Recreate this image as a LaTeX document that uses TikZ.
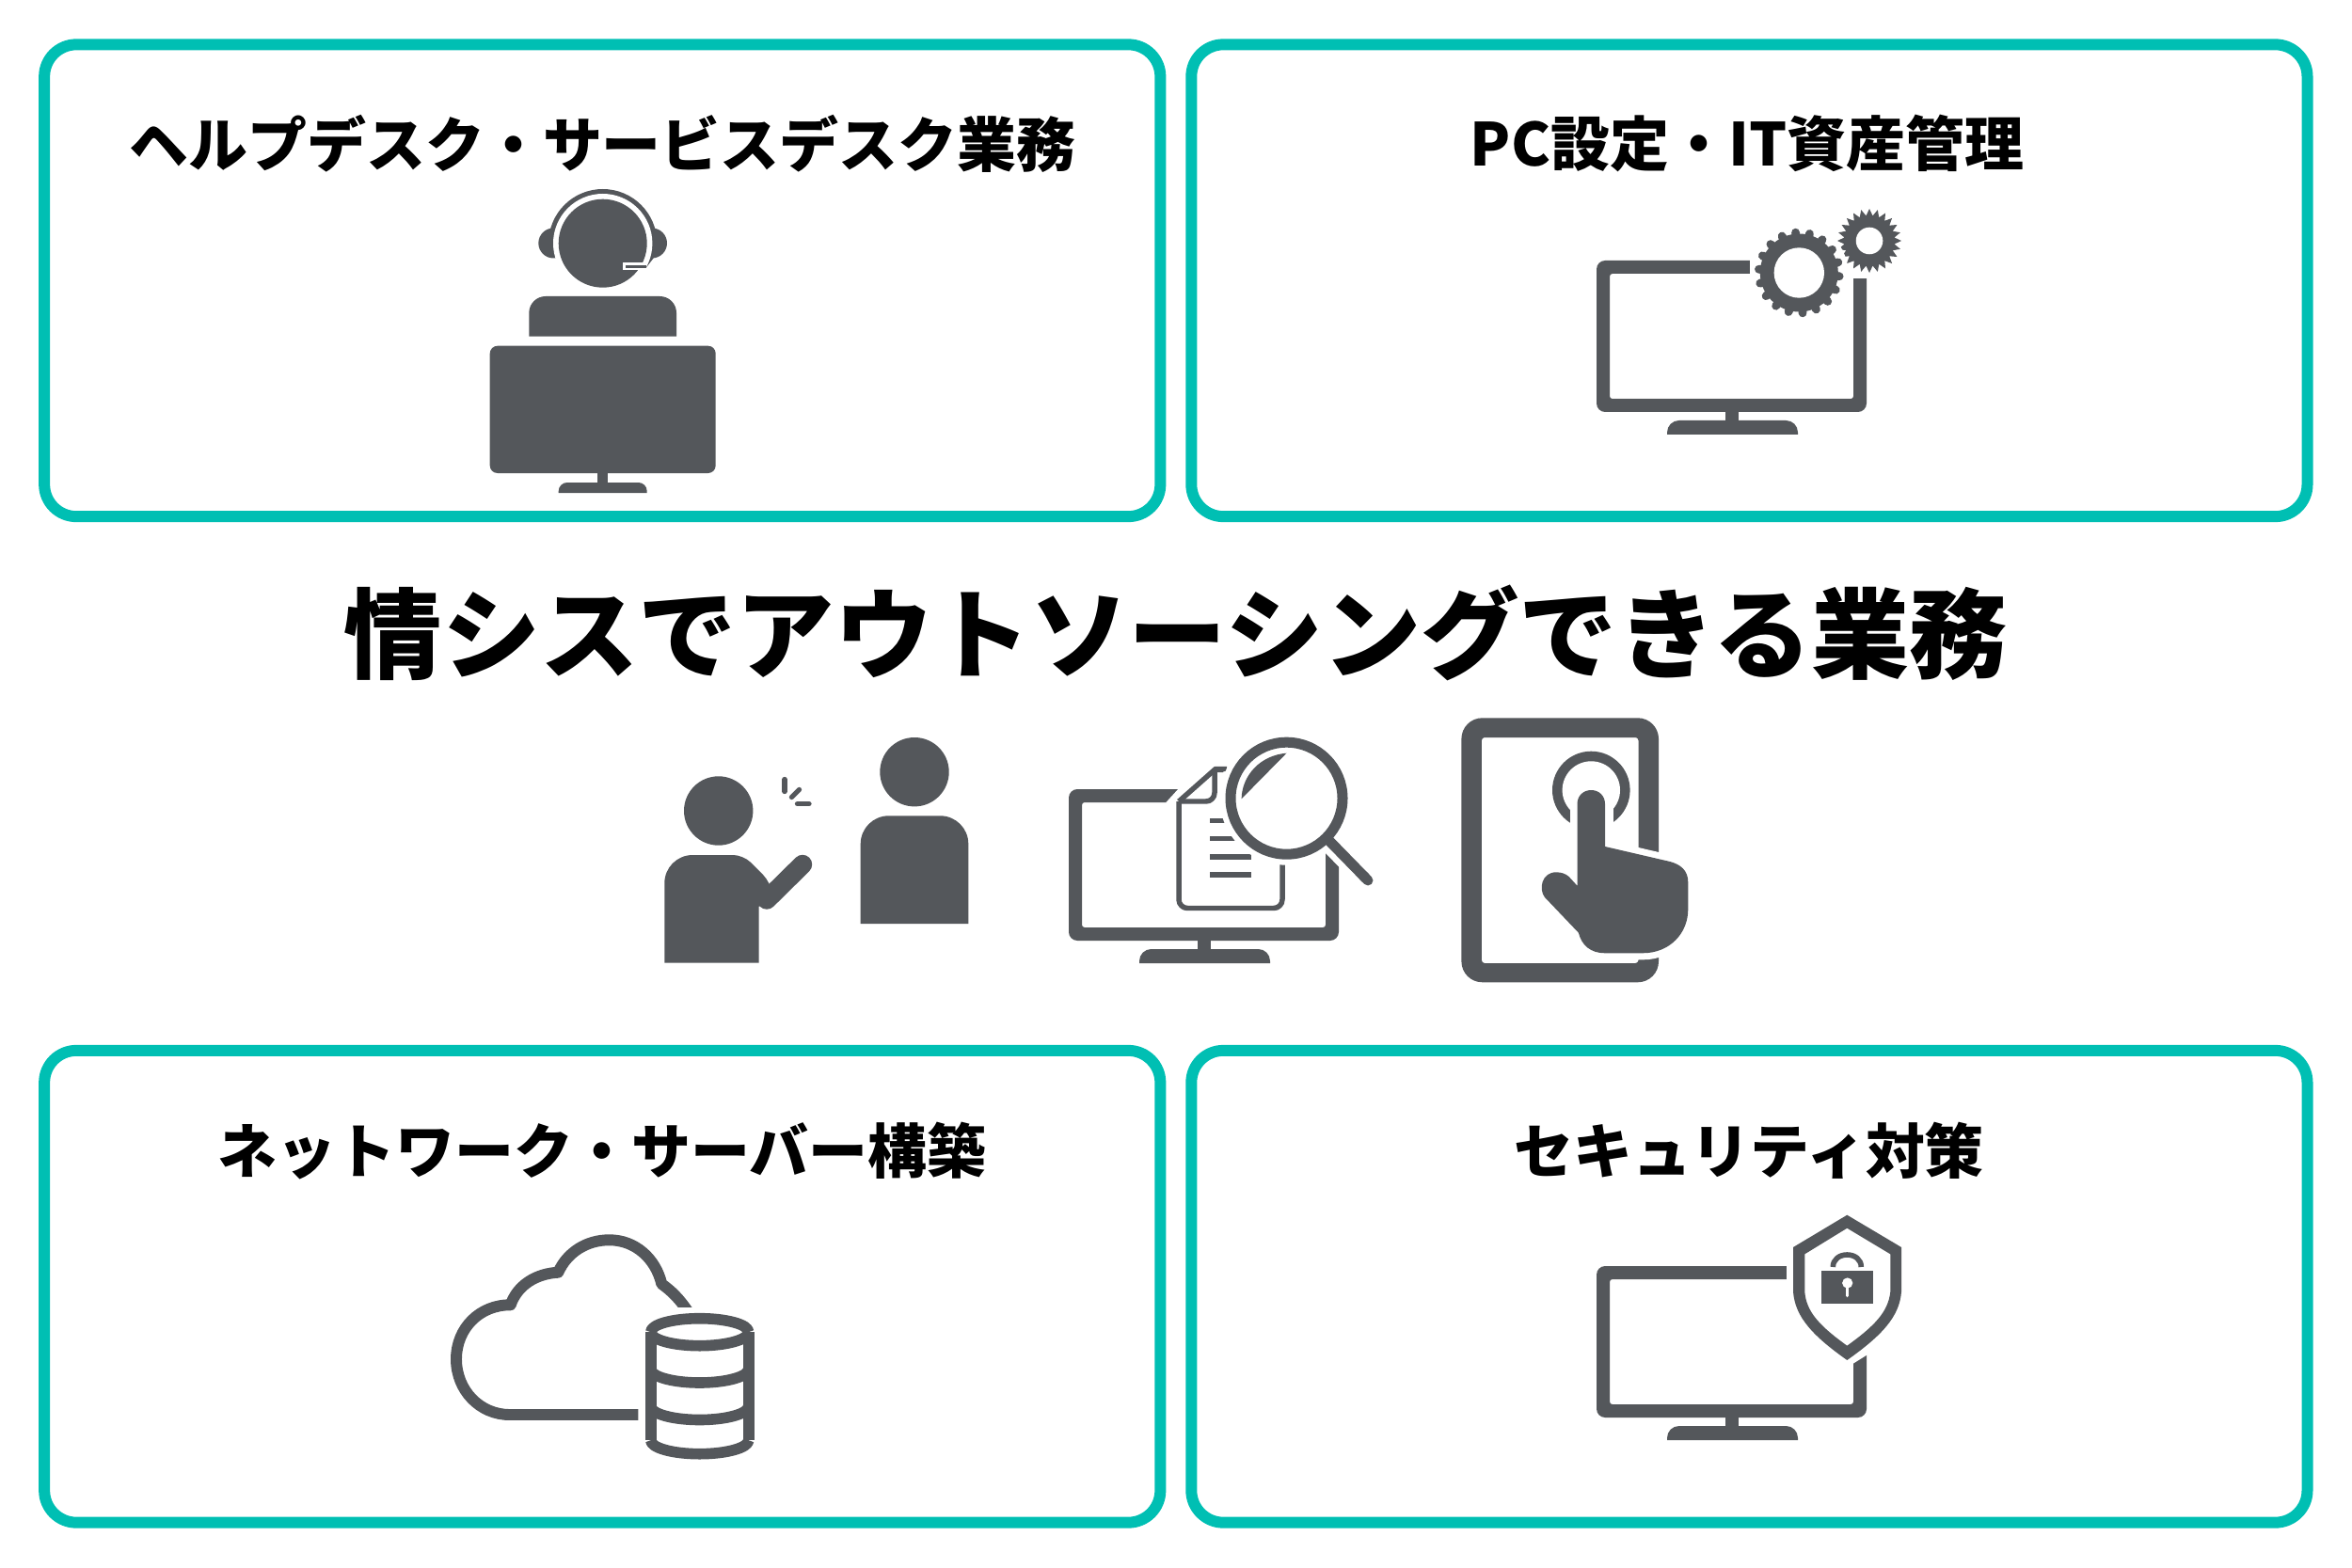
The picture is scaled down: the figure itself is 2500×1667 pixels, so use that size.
\documentclass[tikz,border=0pt]{standalone}
\usepackage{fontspec}
\usetikzlibrary{shapes.geometric}
\newfontfamily\cjkfont{Noto Sans CJK JP}
\definecolor{panelteal}{HTML}{00BFB3}
\definecolor{icongray}{HTML}{54575B}
\tikzset{panel/.style={draw=panelteal,line width=3.41pt,rounded corners=9.67pt,minimum width=11.855cm,minimum height=5.015cm,inner sep=0pt,outer sep=0pt}}
\tikzset{l/.style={font=\cjkfont\bfseries\fontsize{17.9}{18}\selectfont,text=black,inner sep=0pt}}
\tikzset{m/.style={font=\cjkfont\bfseries\fontsize{29.65}{30}\selectfont,text=black,inner sep=0pt}}
\tikzset{icon/.style={fill=icongray,draw=none}}
\tikzset{cut/.style={fill=white,draw=none}}
\tikzset{monitor/.pic={
  \fill[icon,even odd rule] [rounded corners=2.6pt] (0,0) rectangle (287,161) [rounded corners=.8pt] (14,14) rectangle (273,147);
  \fill[icon] (137,160) rectangle (151,171);
  \fill[icon] (75,185) [rounded corners=3.6pt] -- (75,170) -- (214,170) [sharp corners] -- (214,185) -- cycle;
}}

\begin{document}
\begin{tikzpicture}[x=.01cm,y=-.01cm,line join=round]
  \useasboundingbox (0,0) rectangle (2500,1667);
  % frames
  \node[panel] (helpdesk) at (640.25,298.25) {};
  \node[panel] (pcsetup) at (1859.4,298.25) {};
  \node[panel] (network) at (640.25,1367.75) {};
  \node[panel] (security) at (1859.4,1367.75) {};
  % texts
  \node[l] (helpdesklabel) at (640.6,153) {ヘルプデスク・サービスデスク業務};
  \node[l] (pcsetuplabel) at (1857,152) {PC設定・IT資産管理};
  \node[l] (networklabel) at (640,1224) {ネットワーク・サーバー構築};
  \node[l] (securitylabel) at (1859,1223) {セキュリティ対策};
  \node[m] (maintitle) at (1250,673) {情シスでアウトソーシングできる業務};
  % headset operator
  \fill[icon] (640.7,258.7) circle[radius=57.7];
  \fill[cut] (580,258.7) rectangle (700,320);
  \fill[icon] (588.3,258.5) circle[radius=16];
  \fill[icon] (693,258.5) circle[radius=16];
  \fill[icon] (698,270) -- (686.5,285) -- (680,285) -- (680,270) -- cycle;
  \fill[cut] (640.7,258.7) circle[radius=52.7];
  \fill[icon] (640.7,258.7) circle[radius=47];
  \fill[cut] (661.7,279) rectangle (684.5,287.3);
  \fill[icon] (665,282) rectangle (687,284.8);
  \fill[icon] (562.3,357.7) [rounded corners=5pt] -- (562.3,315) -- (719,315) [sharp corners] -- (719,357.7) -- cycle;
  \fill[icon,rounded corners=2.3pt] (520.7,367.7) rectangle (760.7,503);
  \fill[icon] (635.3,502) rectangle (646,514);
  \fill[icon] (593.7,524) [rounded corners=2.6pt] -- (593.7,513) -- (687.7,513) [sharp corners] -- (687.7,524) -- cycle;
  % monitor with gears
  \pic at (1697,277) {monitor};
  \fill[cut] (1860,270) rectangle (1990,296);
  \node[icon,star,star points=24,star point ratio=1.27,minimum size=.68cm,inner sep=0pt,outer sep=0pt] (gearsmall) at (1987,256) {};
  \fill[cut] (1987,256) circle[radius=14.3];
  \fill[cut] (1912.3,290) circle[radius=52];
  \foreach \a in {0,20,...,340}
    \draw[draw=icongray,line width=2.5pt,line cap=round,shift={(1912.3,290)}] (\a+5:38) -- (\a+5:43);
  \fill[icon] (1912.3,290) circle[radius=41.5];
  \fill[cut] (1912.3,290) circle[radius=26.7];
  % two people
  \fill[icon] (763.7,862) circle[radius=36.7];
  \fill[icon] (706.3,1023.7) [rounded corners=8.5pt] -- (706.3,909) [rounded corners=3pt] -- (790,909) -- (818.7,937.7) [sharp corners] -- (822,958) -- (806.7,963.7) -- (806.7,1023.7) -- cycle;
  \draw[draw=icongray,line width=5.8pt,line cap=round] (853,919) -- (815,956.5);
  \draw[draw=icongray,line width=1.5pt,line cap=round] (834,828.5) -- (834,841.5);
  \draw[draw=icongray,line width=1.5pt,line cap=round] (841.5,847.5) -- (849.5,839.5);
  \draw[draw=icongray,line width=1.5pt,line cap=round] (847.5,854.7) -- (860,854.7);
  \fill[icon] (972,820.7) circle[radius=36.7];
  \fill[icon] (914.7,982) [rounded corners=8.5pt] -- (914.7,867.3) -- (1029.3,867.3) [sharp corners] -- (1029.3,982) -- cycle;
  % monitor with document and magnifier
  \begin{scope}[shift={(-1,0)}]
  \pic at (1137,839) {monitor};
  \fill[cut] (1240,853.5) -- (1255,837) -- (1426,837) -- (1426,923.5) -- (1409,906) -- (1390,870) -- cycle;
  \draw[draw=icongray,line width=1.56pt,rounded corners=2.6pt] (1254,852) -- (1254,965.5) -- (1364,965.5) -- (1364,915);
  \draw[draw=icongray,line width=1.56pt] (1254,852) -- (1293,817.5) -- (1305,817.5);
  \draw[draw=icongray,line width=1.56pt,rounded corners=2.6pt] (1254,852) -- (1292,852) -- (1292,817.5);
  \foreach \y in {872.3,891.7,911,930}
    \fill[icon] (1287,\y-2.6) rectangle (1330.5,\y+2.6);
  \fill[cut] (1368.5,848.7) circle[radius=71];
  \fill[icon] (1305,815) -- (1301,821) -- (1295,821) -- (1295,815) -- cycle;
  \draw[draw=icongray,line width=3.13pt] (1368.5,848.7) circle[radius=59.5];
  \draw[draw=icongray,line width=3.1pt] (1413,893) -- (1453,934);
  \draw[draw=icongray,line width=3.1pt,line cap=round] (1450,931) -- (1455,936);
  \fill[icon] (1368.5,800.7) -- (1320.6,849.3) .. controls (1321,825) and (1340,803) .. (1368.5,800.7) -- cycle;
  \end{scope}
  % tablet and hand
  \begin{scope}[shift={(-1,0)}]
  \fill[icon,even odd rule] [rounded corners=6.3pt] (1554.4,763.3) rectangle (1764,1044.3) [rounded corners=.9pt] (1575.9,784) rectangle (1742.5,1024);
  \fill[icon] (1692.3,840) circle[radius=41.3];
  \fill[cut] (1692.3,840) circle[radius=30.7];
  \fill[cut] (1669.5,850) rectangle (1715.6,890);
  \fill[icon,preaction={draw=white,line width=4pt}] (1677.5,854.7) .. controls (1677.5,846) and (1684,840) .. (1692.3,840) .. controls (1700.5,840) and (1707,846) .. (1707,854.7) -- (1707,900) -- (1776,916) .. controls (1787,919) and (1795.3,925) .. (1795.3,938) -- (1795.3,966.7) .. controls (1795.3,992) and (1776,1013.3) .. (1747,1013.3) -- (1706.7,1013.3) .. controls (1692,1013.3) and (1682,1005) .. (1678.9,991.7) -- (1643,954) .. controls (1636,945) and (1640,927.3) .. (1655,927.3) .. controls (1661,927.3) and (1665,929) .. (1668.6,932) -- (1677.5,941.7) -- cycle;
  \end{scope}
  % cloud and database
  \draw[draw=icongray,line width=3.4pt] (678.3,1504) -- (541.7,1504) .. controls (510,1504) and (485,1478) .. (485,1445) .. controls (485,1412) and (510,1387) .. (542.7,1387.3) .. controls (550,1366) and (570,1354) .. (593.3,1352.7) .. controls (603,1331) and (624,1318.3) .. (647.3,1318.3) .. controls (675,1318) and (697,1338) .. (703.3,1365) .. controls (713,1372) and (722,1380) .. (733,1397);
  \fill[cut] (715,1389.5) rectangle (745,1400);
  \draw[draw=icongray,line width=3.3pt] (691.7,1416.2) .. controls (691.7,1408) and (715,1401.7) .. (743.7,1401.7) .. controls (772,1401.7) and (795.7,1408) .. (795.7,1416.2);
  \foreach \s in {1416.2,1455.5,1495,1531.2}
    \draw[draw=icongray,line width=3.3pt] (691.7,\s) .. controls (691.7,\s+8) and (715,\s+14.5) .. (743.7,\s+14.5) .. controls (772,\s+14.5) and (795.7,\s+8) .. (795.7,\s);
  \draw[draw=icongray,line width=3.3pt] (691.7,1416.2) -- (691.7,1531.2);
  \draw[draw=icongray,line width=3.3pt] (795.7,1416.2) -- (795.7,1531.2);
  % monitor with shield
  \pic at (1697,1346) {monitor};
  \fill[cut] (1899,1340) -- (1990,1340) -- (1990,1437) -- (1966,1452) -- (1899,1400) -- cycle;
  \fill[icon,even odd rule] (1963.3,1291.7) -- (2021,1326) -- (2021,1373.3) .. controls (2019,1400) and (2000,1420) .. (1963.3,1446) .. controls (1926.6,1420) and (1908,1400) .. (1906,1373.3) -- (1906,1326) -- cycle (1963.3,1305.7) -- (2009.3,1333.3) -- (2009.3,1373.3) .. controls (2007,1395) and (1992,1410) .. (1963.3,1430.7) .. controls (1934.6,1410) and (1920,1395) .. (1918.3,1373.3) -- (1918.3,1333.3) -- cycle;
  \fill[icon] (1936,1351) rectangle (1991.3,1386.3);
  \draw[draw=icongray,line width=1.6pt] (1948.3,1347) .. controls (1948.3,1339) and (1955,1334) .. (1963.3,1334) .. controls (1971.6,1334) and (1978.3,1339) .. (1978.3,1347);
  \fill[cut] (1963.7,1364) circle[radius=5.6];
  \draw[draw=white,line width=1pt,line cap=round] (1963.7,1366) -- (1963.7,1377.5);
\end{tikzpicture}
\end{document}
